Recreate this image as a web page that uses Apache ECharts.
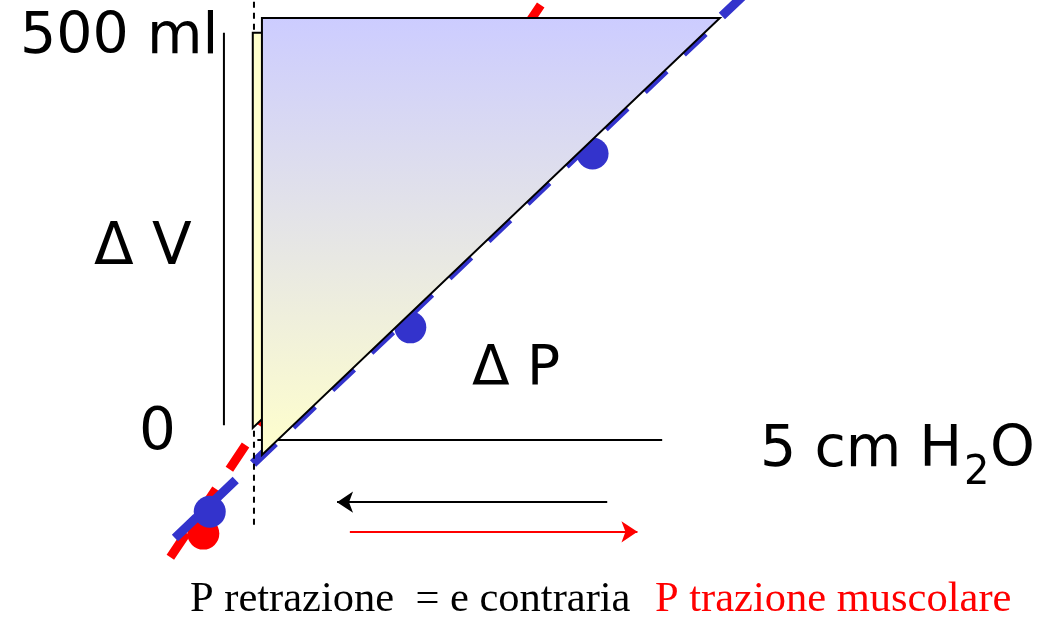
<!DOCTYPE html>
<html>
<head>
<meta charset="utf-8">
<script src="https://cdn.jsdelivr.net/npm/echarts@6/dist/echarts.min.js"></script>
<style>
  html, body { margin: 0; padding: 0; background: #fff; }
  #main { width: 1056px; height: 621px; }
</style>
</head>
<body>
<div id="main"></div>
<script>
// pressione (cm H2O) sull'asse x, volume (ml) sull'asse y
var frontTriP = [0, 0, 5];
var frontTriV = [0, 500, 500];
var backTriP = [-0.1, -0.1, 4.4];
var backTriV = [31, 483, 483];

var blueLineP = [-0.95, 5.6];
var blueLineV = [-95, 560];
var blueDotP = [-0.57, 1.62, 3.61, 5.4];
var blueDotV = [-65, 146, 345, 532];

var redLineP = [-1.0, 3.3];
var redLineV = [-117, 555];
var redDotP = [-0.64];
var redDotV = [-90];

var volAxisP = [-0.415, -0.415];
var volAxisV = [34, 483];
var presAxisP = [-0.05, 4.37];
var presAxisV = [17, 17];
var zeroLineP = [-0.087, -0.087];
var zeroLineV = [-80, 530];

var leftArrowP = [3.77, 0.82];   // P retrazione
var rightArrowP = [0.96, 4.10];  // P trazione muscolare
var leftArrowV = -54;
var rightArrowV = -88;

function zip(a, b) {
  return a.map(function (v, i) { return [v, b[i]]; });
}

function polygon(style) {
  return function (params, api) {
    if (params.dataIndex !== 0) return;
    var pts = [];
    for (var i = 0; i < params.dataInsideLength; i++) {
      pts.push(api.coord([api.value(0, i), api.value(1, i)]));
    }
    return { type: 'polygon', shape: { points: pts }, style: style };
  };
}

var myChart = echarts.init(document.getElementById('main'));
var handFont = '"DejaVu Sans"';

option = {
  animation: false,
  grid: { left: 0, right: 0, top: 0, bottom: 0 },
  xAxis: { type: 'value', min: -2.86, max: 8.67, show: false },
  yAxis: { type: 'value', min: -190, max: 520.6, show: false },
  series: [
    {
      type: 'line', data: zip(redLineP, redLineV), symbol: 'none', z: 1,
      lineStyle: { color: '#ff0000', width: 9, type: [29, 24], cap: 'butt' }
    },
    {
      type: 'scatter', data: zip(redDotP, redDotV), symbolSize: 32, z: 2,
      itemStyle: { color: '#ff0000', opacity: 1 }
    },
    {
      type: 'line', data: zip(blueLineP, blueLineV), symbol: 'none', z: 3,
      lineStyle: { color: '#3333cc', width: 9, type: [30, 24], cap: 'butt' }
    },
    {
      type: 'scatter', data: zip(blueDotP, blueDotV), symbolSize: 32, z: 4,
      itemStyle: { color: '#3333cc', opacity: 1 }
    },
    {
      type: 'line', data: zip(zeroLineP, zeroLineV), symbol: 'none', z: 5,
      lineStyle: { color: '#000', width: 2, type: [6, 5] }
    },
    {
      type: 'line', data: zip(volAxisP, volAxisV), symbol: 'none', z: 5,
      lineStyle: { color: '#000', width: 2 }
    },
    {
      type: 'line', data: zip(presAxisP, presAxisV), symbol: 'none', z: 5,
      lineStyle: { color: '#000', width: 2 }
    },
    {
      type: 'custom', data: zip(backTriP, backTriV), z: 6,
      renderItem: polygon({ fill: '#ffffcc', stroke: '#000', lineWidth: 2 })
    },
    {
      type: 'custom', data: zip(frontTriP, frontTriV), z: 7,
      renderItem: polygon({
        fill: new echarts.graphic.LinearGradient(0, 0, 0, 1, [
          { offset: 0, color: '#ccccff' },
          { offset: 1, color: '#ffffcc' }
        ]),
        stroke: '#000', lineWidth: 2
      })
    },
    {
      type: 'lines', coordinateSystem: 'cartesian2d', z: 8,
      symbol: ['none', 'arrow'], symbolSize: 16,
      lineStyle: { color: '#000', width: 2, opacity: 1 },
      data: [{ coords: [[leftArrowP[0], leftArrowV], [leftArrowP[1], leftArrowV]] }]
    },
    {
      type: 'lines', coordinateSystem: 'cartesian2d', z: 8,
      symbol: ['none', 'arrow'], symbolSize: 16,
      lineStyle: { color: '#ff0000', width: 2, opacity: 1 },
      data: [{ coords: [[rightArrowP[0], rightArrowV], [rightArrowP[1], rightArrowV]] }]
    }
  ],
  graphic: [
    { type: 'text', z: 100, style: { text: '500 ml', x: 20, y: 38, font: '57px ' + handFont, fill: '#000', verticalAlign: 'middle' } },
    { type: 'text', z: 100, style: { text: 'Δ V', x: 94, y: 249, font: '58px ' + handFont, fill: '#000', verticalAlign: 'middle' } },
    { type: 'text', z: 100, style: { text: '0', x: 139, y: 434, font: '58px ' + handFont, fill: '#000', verticalAlign: 'middle' } },
    { type: 'text', z: 100, style: { text: 'Δ P', x: 472, y: 370, font: '55px ' + handFont, fill: '#000', verticalAlign: 'middle' } },
    { type: 'text', z: 100, style: { text: '5 cm H', x: 760, y: 451, font: '57px ' + handFont, fill: '#000', verticalAlign: 'middle' } },
    { type: 'text', z: 100, style: { text: '2', x: 964, y: 474, font: '40px ' + handFont, fill: '#000', verticalAlign: 'middle' } },
    { type: 'text', z: 100, style: { text: 'O', x: 990, y: 451, font: '57px ' + handFont, fill: '#000', verticalAlign: 'middle' } },
    { type: 'text', z: 100, style: { text: 'P retrazione  = e contraria', x: 190, y: 600, font: '42.5px "Liberation Serif"', fill: '#000', verticalAlign: 'middle' } },
    { type: 'text', z: 100, style: { text: 'P trazione muscolare', x: 655, y: 600, font: '42.5px "Liberation Serif"', fill: '#ff0000', verticalAlign: 'middle' } }
  ]
};

if (option && typeof option === "object") {
  myChart.setOption(option, true);
}
</script>
</body>
</html>
